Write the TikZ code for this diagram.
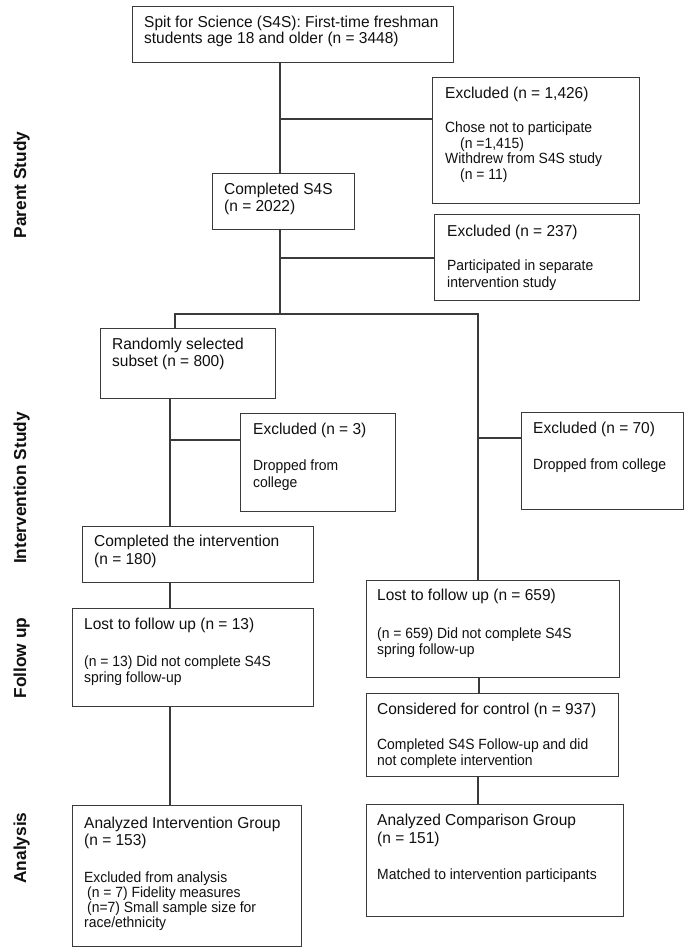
\documentclass[tikz,border=0pt]{standalone}
\usepackage{fontspec}
\setmainfont{Liberation Sans}
\newfontfamily\hdfam[FakeStretch=0.98]{Liberation Sans}
\newfontfamily\bdfam[FakeStretch=0.94]{Liberation Sans}
\newcommand\hdf[1]{\hdfam\fontsize{15.8}{#1}\selectfont}
\newcommand\bdf[1]{\bdfam\fontsize{14.8}{#1}\selectfont}
\definecolor{linec}{HTML}{3A3A3A}
\definecolor{txtc}{HTML}{101010}
\tikzset{
  box/.style={draw=linec, line width=1.4pt, inner sep=0pt, anchor=north west},
  conn/.style={draw=linec, line width=1.3pt},
  hd/.style={inner sep=0pt, anchor=north west, align=left, text=txtc, font={\hdf{#1}}},
  bd/.style={inner sep=0pt, anchor=north west, align=left, text=txtc, font={\bdf{#1}}},
  phase/.style={inner sep=0pt, rotate=90, anchor=base, text=txtc, font={\fontsize{17.3}{20}\selectfont\bfseries}}
}
\newcommand\boxat[5]{\node[box, minimum width=#4-#2, minimum height=#5-#3] (#1) at (#2,#3) {};}
\begin{document}
\begin{tikzpicture}[x=1pt,y=-1pt]
\useasboundingbox[fill=white] (0,0) rectangle (685,948);

% boxes
\boxat{top}{132}{6}{453}{62}
\boxat{cs}{212}{173}{354}{229}
\boxat{exa}{432}{77}{639}{203}
\boxat{exb}{434}{214}{639}{300}
\boxat{rand}{100}{328}{275}{398}
\boxat{exc}{240}{413}{395}{511}
\boxat{exd}{521}{412}{683}{509}
\boxat{ci}{82}{526}{313}{582}
\boxat{lta}{72}{608}{313}{706}
\boxat{ltb}{366}{580}{619}{677}
\boxat{con}{366}{693}{618}{776}
\boxat{aig}{72}{805}{301}{946}
\boxat{acg}{366}{804}{623}{916}

% texts
\node[hd=16] (topT) at (144,16) {Spit for Science (S4S): First-time freshman\\students age 18 and older (n = 3448)};
\node[hd=17] (csT) at (224,183) {Completed S4S\\(n = 2022)};
\node[hd=17] (exaH) at (445,87) {Excluded (n = 1,426)};
\node[bd=15.5] (exaB) at (445,122) {Chose not to participate\\\hspace*{15pt}(n =1,415)\\Withdrew from S4S study\\\hspace*{15pt}(n = 11)};
\node[hd=17] (exbH) at (447,225) {Excluded (n = 237)};
\node[bd=16.7] (exbB) at (447,260) {Participated in separate\\intervention study};
\node[hd=17] (randT) at (112,338) {Randomly selected\\subset (n = 800)};
\node[hd=17] (excH) at (253,423) {Excluded (n = 3)};
\node[bd=16.7] (excB) at (253,460) {Dropped from\\college};
\node[hd=17] (exdH) at (533,422) {Excluded (n = 70)};
\node[bd=16] (exdB) at (533,459) {Dropped from college};
\node[hd=18] (ciT) at (94,535) {Completed the intervention\\(n = 180)};
\node[hd=17] (ltaH) at (84,618) {Lost to follow up (n = 13)};
\node[bd=16] (ltaB) at (84,656) {(n = 13) Did not complete S4S\\spring follow-up};
\node[hd=17] (ltbH) at (377,589) {Lost to follow up (n = 659)};
\node[bd=15.5] (ltbB) at (377,628) {(n = 659) Did not complete S4S\\spring follow-up};
\node[hd=17] (conH) at (377,703) {Considered for control (n = 937)};
\node[bd=15.5] (conB) at (377,739) {Completed S4S Follow-up and did\\not complete intervention};
\node[hd=16.5] (aigH) at (84,817) {Analyzed Intervention Group\\(n = 153)};
\node[bd=15] (aigB) at (84,872) {Excluded from analysis\\\hspace*{3pt}(n = 7) Fidelity measures\\\hspace*{3pt}(n=7) Small sample size for\\race/ethnicity};
\node[hd=17.5] (acgH) at (377,814) {Analyzed Comparison Group\\(n = 151)};
\node[bd=16] (acgB) at (377,869) {Matched to intervention participants};

% phase labels
\node[phase] (pA) at (26,185) {Parent Study};
\node[phase] (pB) at (26,488) {Intervention Study};
\node[phase] (pC) at (26,658) {Follow up};
\node[phase] (pD) at (26,848) {Analysis};

% junctions
\coordinate (ja) at (280,119);
\coordinate (jb) at (280,258);
\coordinate (sl) at (175,314);
\coordinate (sr) at (478,314);
\coordinate (jc) at (170,440);
\coordinate (jd) at (478,438);
\coordinate (xl) at (170,0);
\coordinate (xr) at (479,0);

% connectors
\draw[conn] (top.south -| ja) -- (cs.north -| ja);
\draw[conn] (ja) -- (exa.west |- ja);
\draw[conn] (cs.south -| jb) -- (jb |- sl);
\draw[conn] (jb) -- (exb.west |- jb);
\draw[conn] (rand.north -| sl) -- (sl) -- (sr) -- (ltb.north -| sr);
\draw[conn] (jd) -- (exd.west |- jd);
\draw[conn] (rand.south -| jc) -- (ci.north -| jc);
\draw[conn] (jc) -- (exc.west |- jc);
\draw[conn] (ci.south -| xl) -- (lta.north -| xl);
\draw[conn] (lta.south -| xl) -- (aig.north -| xl);
\draw[conn] (ltb.south -| xr) -- (con.north -| xr);
\draw[conn] (con.south -| sr) -- (acg.north -| sr);
\end{tikzpicture}
\end{document}
